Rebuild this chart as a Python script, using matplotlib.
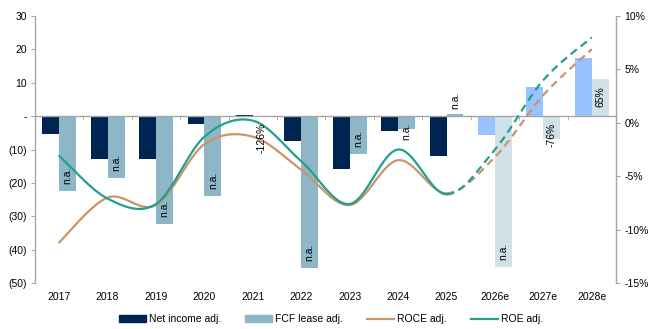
import numpy as np
import matplotlib
matplotlib.use("Agg")
import matplotlib.pyplot as plt
from matplotlib.patches import Patch
from matplotlib.lines import Line2D
from matplotlib.ticker import FuncFormatter, FixedLocator
import matplotlib.transforms as mtransforms

plt.rcParams['font.family'] = ['Liberation Sans', 'DejaVu Sans']

years = ['2017', '2018', '2019', '2020', '2021', '2022', '2023', '2024',
         '2025', '2026e', '2027e', '2028e']
net_income = [-5.5, -12.8, -12.7, -2.3, 0.3, -7.6, -15.7, -4.6, -11.9, -5.6, 8.7, 17.4]
fcf_lease = [-22.4, -18.4, -32.3, -24.0, -0.2, -45.6, -11.3, -3.9, 0.5, -45.1, -6.8, 11.1]
fcf_labels = ['n.a.', 'n.a.', 'n.a.', 'n.a.', '-126%', 'n.a.', 'n.a.', 'n.a.',
              'n.a.', 'n.a.', '-76%', '65%']
roce = [-11.2, -7.0, -7.7, -2.0, -1.3, -4.4, -7.7, -3.5, -6.6, -3.2, 2.6, 6.9]
roe = [-3.1, -7.1, -7.6, -1.3, 0.2, -3.6, -7.6, -2.5, -6.7, -2.5, 4.0, 8.0]
n_actual = 9  # 2017-2025 reported, rest estimates

NAVY = '#002452'
FCF = '#8db7c7'
NAVY_EST = '#99c3ff'
FCF_EST = '#d1e1e8'
ROCE_C = '#c9956b'
ROE_C = '#21a08c'
GREY = '#a6a6a6'


def smooth(xs, ys, n=25):
    # bezier smoothing through every point, like a spreadsheet "smoothed line"
    pts = np.column_stack([xs, ys]).astype(float)
    pad = np.vstack([pts[0], pts, pts[-1]])
    segs = []
    t = np.linspace(0, 1, n)[:, None]
    for i in range(len(pts) - 1):
        p0, p1, p2, p3 = pad[i], pad[i + 1], pad[i + 2], pad[i + 3]
        c1 = p1 + (p2 - p0) / 6
        c2 = p2 - (p3 - p1) / 6
        seg = (1 - t) ** 3 * p1 + 3 * (1 - t) ** 2 * t * c1 + 3 * (1 - t) * t ** 2 * c2 + t ** 3 * p2
        segs.append(seg)
    return segs


fig = plt.figure(figsize=(6.49, 3.29), dpi=100)
ax = fig.add_axes([35 / 649, 1 - 283 / 329, (616 - 35) / 649, (283 - 16) / 329])
ax2 = ax.twinx()

x = np.arange(len(years))
w = 0.35
ni_colors = [NAVY if i < n_actual else NAVY_EST for i in x]
fcf_colors = [FCF if i < n_actual else FCF_EST for i in x]
ax.bar(x - w / 2, net_income, w, color=ni_colors, zorder=2)
ax.bar(x + w / 2, fcf_lease, w, color=fcf_colors, zorder=2)

ax.set_xlim(-0.5, len(years) - 0.5)
ax.set_ylim(-50, 30)
ax2.set_ylim(-15, 10)

# axes styling
for sp in ['top']:
    ax.spines[sp].set_visible(False)
    ax2.spines[sp].set_visible(False)
ax.spines['bottom'].set_position(('data', 0))
for a in (ax, ax2):
    for sp in ['left', 'right', 'bottom']:
        a.spines[sp].set_color(GREY)
        a.spines[sp].set_linewidth(1.0)
ax2.spines['bottom'].set_visible(False)
ax.spines['right'].set_visible(False)
ax2.spines['left'].set_visible(False)

ax.set_yticks([30, 20, 10, 0, -10, -20, -30, -40, -50])
ax.yaxis.set_major_formatter(FuncFormatter(
    lambda v, p: '-' if v == 0 else (f'({abs(v):.0f})' if v < 0 else f'{v:.0f}')))
ax2.set_yticks([10, 5, 0, -5, -10, -15])
ax2.yaxis.set_major_formatter(FuncFormatter(lambda v, p: f'{v:.0f}%'))

ax.tick_params(axis='y', direction='out', length=3, color=GREY, labelsize=7.5, pad=3)
ax2.tick_params(axis='y', direction='out', length=3, color=GREY, labelsize=7.5, pad=3)
ax.set_xticks([])
ax.xaxis.set_minor_locator(FixedLocator(np.arange(0.5, len(years) - 1, 1)))
ax.tick_params(axis='x', which='minor', direction='out', length=3, color=GREY)

# category labels sit below the plot area
trans = mtransforms.blended_transform_factory(ax.transData, ax.transAxes)
for i, yr in enumerate(years):
    ax.text(i, -0.052, yr, transform=trans, ha='center', va='center', fontsize=7.5)

# ROCE / ROE lines, solid for reported years, dashed for estimates
for vals, col in [(roce, ROCE_C), (roe, ROE_C)]:
    segs = smooth(x, vals)
    solid = np.vstack(segs[:n_actual - 1])
    dashed = np.vstack(segs[n_actual - 1:])
    ax2.plot(solid[:, 0], solid[:, 1], color=col, lw=1.6, solid_capstyle='round', zorder=3)
    ax2.plot(dashed[:, 0], dashed[:, 1], color=col, lw=1.6, dashes=(3.5, 2.2), zorder=3)

# FCF yield labels on the FCF bars
for i, (v, lab) in enumerate(zip(fcf_lease, fcf_labels)):
    if abs(v) > 10:
        anchor, off = v, (5 if v < 0 else -5)
    else:
        anchor, off = 0, (-5 if v < 0 else 5)
    va = 'bottom' if off > 0 else 'top'
    ax2.annotate(lab, xy=(i + w / 2, anchor), xycoords=ax.transData,
                 xytext=(0, off), textcoords='offset points',
                 rotation=90, ha='center', va=va, fontsize=7.5, zorder=5)

handles = [Patch(color=NAVY, label='Net income adj.'),
           Patch(color=FCF, label='FCF lease adj.'),
           Line2D([], [], color=ROCE_C, lw=1.6, label='ROCE adj.'),
           Line2D([], [], color=ROE_C, lw=1.6, label='ROE adj.')]
fig.legend(handles=handles, loc='center', bbox_to_anchor=(0.51, 1 - 319 / 329),
           ncol=4, frameon=False, fontsize=7.5, handlelength=2.6, handleheight=0.6,
           handletextpad=0.3, columnspacing=2.3)

fig.savefig('out.png', dpi=100)
